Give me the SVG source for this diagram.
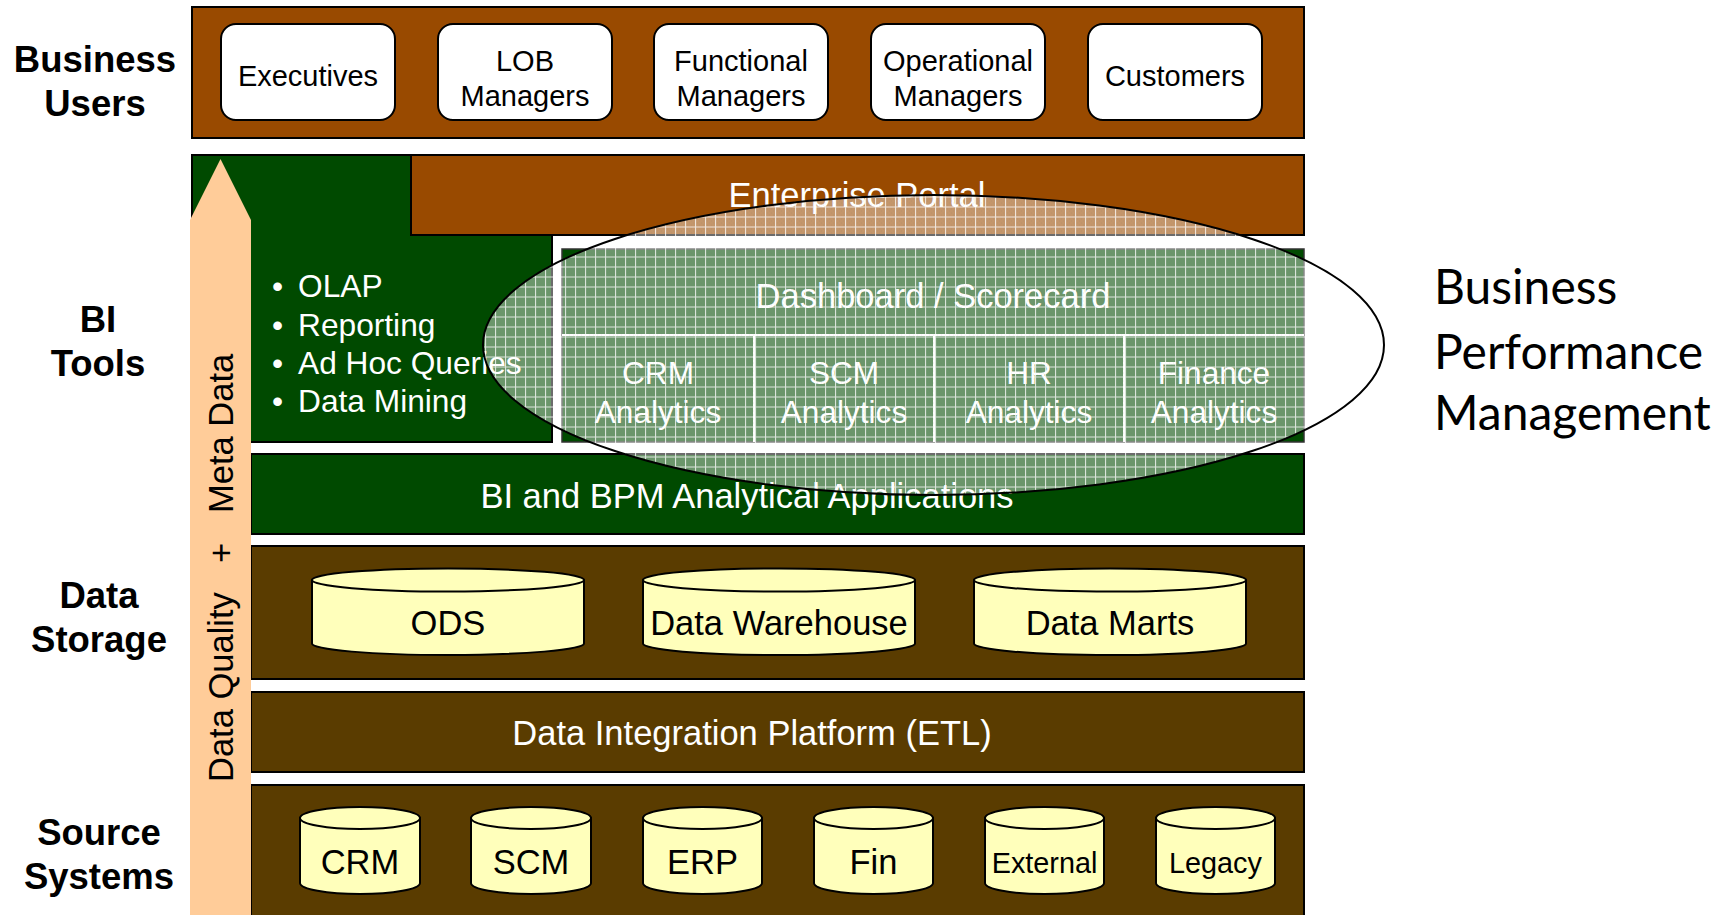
<svg xmlns="http://www.w3.org/2000/svg" width="1723" height="915" viewBox="0 0 1723 915">
<style>
.lbl{font-family:"Liberation Sans",Arial,sans-serif;font-weight:bold;font-size:36.5px;fill:#000;text-anchor:middle}
.usr{font-family:"Liberation Sans",Arial,sans-serif;font-size:29px;fill:#000;text-anchor:middle}
.wt{font-family:"Liberation Sans",Arial,sans-serif;font-size:34.5px;fill:#fff;text-anchor:middle}
.wt2{font-family:"Liberation Sans",Arial,sans-serif;font-size:31.6px;fill:#fff;text-anchor:middle}
.bul{font-family:"Liberation Sans",Arial,sans-serif;font-size:31.7px;fill:#fff}
.bt{font-family:"Liberation Sans",Arial,sans-serif;font-size:34.5px;fill:#000;text-anchor:middle}
.bt2{font-family:"Liberation Sans",Arial,sans-serif;font-size:28.8px;fill:#000;text-anchor:middle}
.vt{font-family:"Liberation Sans",Arial,sans-serif;font-size:34.5px;fill:#000}
.bpm{font-family:Lato,"Open Sans",sans-serif;font-size:48px;fill:#000}
.box{fill:#fff;stroke:#000;stroke-width:2}
.brown{fill:#994A00;stroke:#000;stroke-width:2}
.dbrown{fill:#5A3C00;stroke:#000;stroke-width:2}
.green{fill:#004A00;stroke:#000;stroke-width:2}
.cyl{fill:#FFFFBB;stroke:#000;stroke-width:2}
</style>
<defs>
<pattern id="grid" patternUnits="userSpaceOnUse" x="565" y="246.5" width="10" height="10">
<rect width="10" height="10" fill="#ffffff" fill-opacity="0.42"/>
<path d="M0 0.5H10M0.5 0V10" stroke="#fff" stroke-opacity="0.75" stroke-width="1.2"/>
</pattern>
<pattern id="dots" patternUnits="userSpaceOnUse" x="565" y="246.5" width="4" height="4">
<rect x="0" y="0" width="1" height="1" fill="#000" fill-opacity="0.1"/>
<rect x="2" y="2" width="1" height="1" fill="#000" fill-opacity="0.1"/>
</pattern>
<clipPath id="colored">
<rect x="411" y="155" width="893" height="80"/>
<rect x="562" y="249" width="742" height="193"/>
<rect x="251" y="454" width="1053" height="80"/>
</clipPath>
</defs>
<rect width="1723" height="915" fill="#fff"/>

<g id="layer-labels">
<text class="lbl" x="95" y="72">Business</text>
<text class="lbl" x="95" y="116">Users</text>
<text class="lbl" x="98" y="332">BI</text>
<text class="lbl" x="98" y="376">Tools</text>
<text class="lbl" x="99" y="608">Data</text>
<text class="lbl" x="99" y="652">Storage</text>
<text class="lbl" x="99" y="845">Source</text>
<text class="lbl" x="99" y="889">Systems</text>
</g>

<g id="business-users">
<rect class="brown" x="192" y="7" width="1112" height="131"/>
<g id="executives"><rect class="box" x="221" y="24" width="174" height="96" rx="15"/><text class="usr" x="308" y="86">Executives</text></g>
<g id="lob-managers"><rect class="box" x="438" y="24" width="174" height="96" rx="15"/><text class="usr" x="525" y="71">LOB</text><text class="usr" x="525" y="106">Managers</text></g>
<g id="functional-managers"><rect class="box" x="654" y="24" width="174" height="96" rx="15"/><text class="usr" x="741" y="71">Functional</text><text class="usr" x="741" y="106">Managers</text></g>
<g id="operational-managers"><rect class="box" x="871" y="24" width="174" height="96" rx="15"/><text class="usr" x="958" y="71">Operational</text><text class="usr" x="958" y="106">Managers</text></g>
<g id="customers"><rect class="box" x="1088" y="24" width="174" height="96" rx="15"/><text class="usr" x="1175" y="86">Customers</text></g>
</g>

<g id="bi-tools">
<rect class="green" x="192" y="155" width="360" height="287"/>
<text class="bul" x="272" y="297">•</text><text class="bul" x="298" y="297">OLAP</text>
<text class="bul" x="272" y="335.5">•</text><text class="bul" x="298" y="335.5">Reporting</text>
<text class="bul" x="272" y="374">•</text><text class="bul" x="298" y="374">Ad Hoc Queries</text>
<text class="bul" x="272" y="412">•</text><text class="bul" x="298" y="412">Data Mining</text>
</g>

<g id="enterprise-portal">
<rect class="brown" x="411" y="155" width="893" height="80"/>
<text class="wt" x="857" y="207">Enterprise Portal</text>
</g>

<g id="dashboard">
<rect x="562" y="249" width="742" height="193" fill="#004A00" stroke="#333" stroke-width="1.5"/>
<path d="M562 335H1304M754 335V442M934 335V442M1124 335V442" stroke="#fff" stroke-width="2" fill="none"/>
<text class="wt" x="933" y="308">Dashboard / Scorecard</text>
<g id="crm-analytics"><text class="wt2" x="658" y="384">CRM</text><text class="wt2" x="658" y="423">Analytics</text></g>
<g id="scm-analytics"><text class="wt2" x="844" y="384">SCM</text><text class="wt2" x="844" y="423">Analytics</text></g>
<g id="hr-analytics"><text class="wt2" x="1029" y="384">HR</text><text class="wt2" x="1029" y="423">Analytics</text></g>
<g id="finance-analytics"><text class="wt2" x="1214" y="384">Finance</text><text class="wt2" x="1214" y="423">Analytics</text></g>
</g>

<g id="bi-bpm-apps">
<rect class="green" x="251" y="454" width="1053" height="80"/>
<text class="wt" x="747" y="508">BI and BPM Analytical Applications</text>
</g>

<g id="data-storage">
<rect class="dbrown" x="251" y="546" width="1053" height="133"/>
<g id="ods"><path class="cyl" d="M312 580V643.5A136 11.5 0 0 0 584 643.5V580Z"/><ellipse class="cyl" cx="448" cy="580" rx="136" ry="11.5"/><text class="bt" x="448" y="635">ODS</text></g>
<g id="data-warehouse"><path class="cyl" d="M643 580V643.5A136 11.5 0 0 0 915 643.5V580Z"/><ellipse class="cyl" cx="779" cy="580" rx="136" ry="11.5"/><text class="bt" x="779" y="635">Data Warehouse</text></g>
<g id="data-marts"><path class="cyl" d="M974 580V643.5A136 11.5 0 0 0 1246 643.5V580Z"/><ellipse class="cyl" cx="1110" cy="580" rx="136" ry="11.5"/><text class="bt" x="1110" y="635">Data Marts</text></g>
</g>

<g id="etl">
<rect class="dbrown" x="251" y="692" width="1053" height="80"/>
<text class="wt" x="752" y="745">Data Integration Platform (ETL)</text>
</g>

<g id="source-systems">
<rect class="dbrown" x="251" y="785" width="1053" height="140"/>
<g id="src-crm"><path class="cyl" d="M300 818V883A60 11 0 0 0 420 883V818Z"/><ellipse class="cyl" cx="360" cy="818" rx="60" ry="11"/><text class="bt" x="360" y="874">CRM</text></g>
<g id="src-scm"><path class="cyl" d="M471 818V883A60 11 0 0 0 591 883V818Z"/><ellipse class="cyl" cx="531" cy="818" rx="60" ry="11"/><text class="bt" x="531" y="874">SCM</text></g>
<g id="src-erp"><path class="cyl" d="M643 818V883A59.5 11 0 0 0 762 883V818Z"/><ellipse class="cyl" cx="702.5" cy="818" rx="59.5" ry="11"/><text class="bt" x="702.5" y="874">ERP</text></g>
<g id="src-fin"><path class="cyl" d="M814 818V883A59.5 11 0 0 0 933 883V818Z"/><ellipse class="cyl" cx="873.5" cy="818" rx="59.5" ry="11"/><text class="bt" x="873.5" y="874">Fin</text></g>
<g id="src-external"><path class="cyl" d="M985 818V883A59.5 11 0 0 0 1104 883V818Z"/><ellipse class="cyl" cx="1044.5" cy="818" rx="59.5" ry="11"/><text class="bt2" x="1044.5" y="873">External</text></g>
<g id="src-legacy"><path class="cyl" d="M1156 818V883A59.5 11 0 0 0 1275 883V818Z"/><ellipse class="cyl" cx="1215.5" cy="818" rx="59.5" ry="11"/><text class="bt2" x="1215.5" y="873">Legacy</text></g>
</g>

<g id="connectors">
<g id="meta-arrow">
<path d="M190 920V220L220.5 159L251 220V920Z" fill="#FFCC99"/>
<text class="vt" transform="translate(233 782) rotate(-90)">Data Quality</text>
<text class="vt" transform="translate(233 563) rotate(-90)">+</text>
<text class="vt" transform="translate(233 513) rotate(-90)">Meta Data</text>
</g>
</g>

<g id="bpm-ellipse">
<ellipse cx="933.5" cy="345" rx="450.5" ry="150" fill="url(#dots)" clip-path="url(#colored)"/>
<ellipse cx="933.5" cy="345" rx="450.5" ry="150" fill="url(#grid)" stroke="#000" stroke-width="2"/>
</g>

<g id="bpm-label">
<text class="bpm" x="1434" y="304">Business</text>
<text class="bpm" x="1434" y="369">Performance</text>
<text class="bpm" x="1434" y="430">Management</text>
</g>
</svg>
